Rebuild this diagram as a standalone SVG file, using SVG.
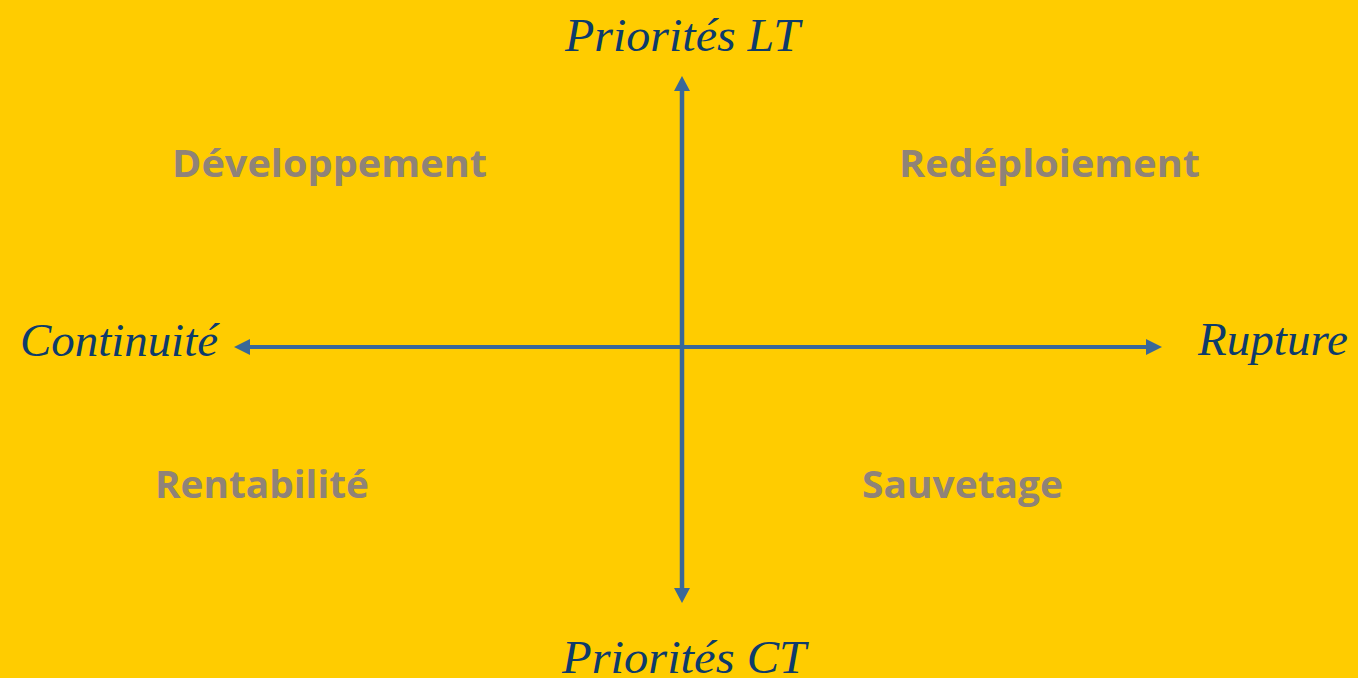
<svg xmlns="http://www.w3.org/2000/svg" width="1358" height="678" viewBox="0 0 1358 678">
<defs>
<style>
.axis{font-family:"Liberation Serif","Times New Roman",serif;font-style:italic;font-size:46px;fill:#0d3b6b}
.quad{font-family:"Open Sans","Noto Sans",sans-serif;font-weight:bold;font-size:37px;fill:#8f8378}
.line{stroke:#3a6898;fill:none}
.head{fill:#3a6898}
</style>
</defs>
<rect width="1358" height="678" fill="#ffcc00"/>
<g id="connectors">
<line class="line" x1="682" y1="590" x2="682" y2="89" stroke-width="4.5"/>
<polygon class="head" points="674,91 682,76 690,91"/>
<polygon class="head" points="674,588 682,603 690,588"/>
<line class="line" x1="248" y1="347" x2="1148" y2="347" stroke-width="4"/>
<polygon class="head" points="250,339 234,347 250,355"/>
<polygon class="head" points="1146,339 1162,347 1146,355"/>
</g>
<g id="top"><text class="axis" x="565" y="51" textLength="235" lengthAdjust="spacingAndGlyphs">Priorités LT</text></g>
<g id="bottom"><text class="axis" x="562" y="673" textLength="244" lengthAdjust="spacingAndGlyphs">Priorités CT</text></g>
<g id="left"><text class="axis" x="20" y="356" textLength="198" lengthAdjust="spacingAndGlyphs">Continuité</text></g>
<g id="right"><text class="axis" x="1198" y="355" textLength="150" lengthAdjust="spacingAndGlyphs">Rupture</text></g>
<g id="developpement"><text class="quad" x="172" y="177" textLength="315" lengthAdjust="spacingAndGlyphs">Développement</text></g>
<g id="redeploiement"><text class="quad" x="899" y="177" textLength="301" lengthAdjust="spacingAndGlyphs">Redéploiement</text></g>
<g id="rentabilite"><text class="quad" x="155" y="498" textLength="214" lengthAdjust="spacingAndGlyphs">Rentabilité</text></g>
<g id="sauvetage"><text class="quad" x="862" y="498" textLength="201" lengthAdjust="spacingAndGlyphs">Sauvetage</text></g>
</svg>
